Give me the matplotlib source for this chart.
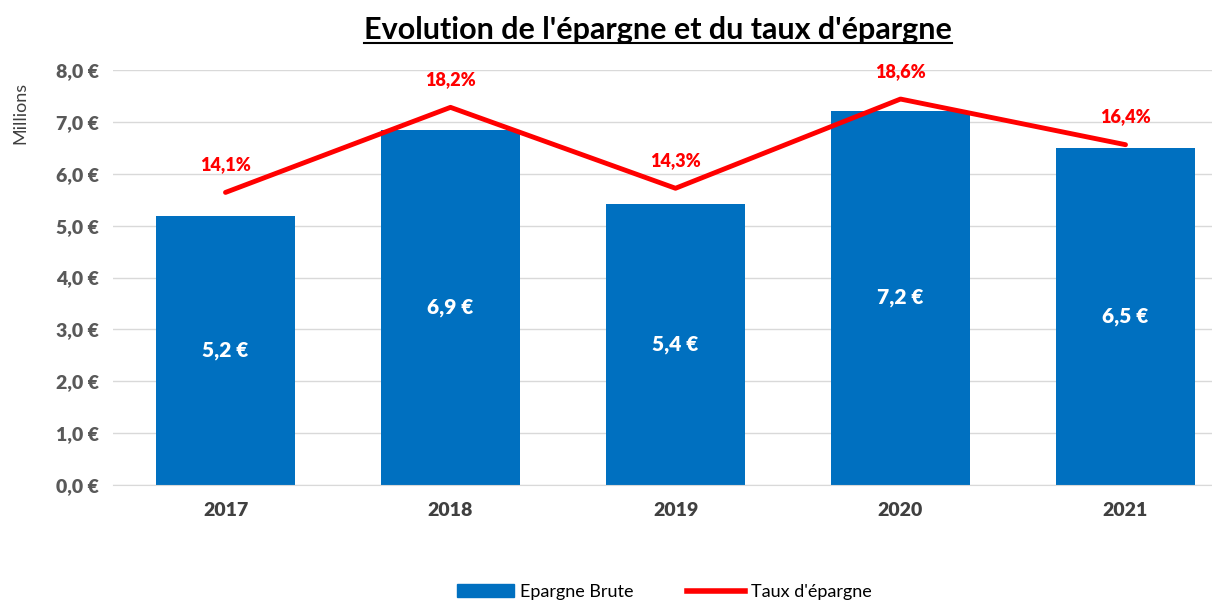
import matplotlib.pyplot as plt
from matplotlib.lines import Line2D
from matplotlib.patches import Patch

years = ["2017", "2018", "2019", "2020", "2021"]
epargne = [5.18, 6.84, 5.41, 7.21, 6.49]
bar_labels = ["5,2 €", "6,9 €", "5,4 €", "7,2 €", "6,5 €"]
taux = [14.1, 18.2, 14.3, 18.6, 16.4]
taux_labels = ["14,1%", "18,2%", "14,3%", "18,6%", "16,4%"]
yticks = [0, 1, 2, 3, 4, 5, 6, 7, 8]

plt.rcParams['font.family'] = ['Lato', 'DejaVu Sans']

blue = "#0070C0"
red = "#FF0000"
grey = "#595959"

fig = plt.figure(figsize=(12.12, 6.03), dpi=100)
ax = fig.add_axes([113 / 1212, 1 - 485 / 603, 1125 / 1212, 415 / 603])

x = list(range(len(years)))
ax.bar(x, epargne, width=0.62, color=blue, zorder=2)
for xi, v, lab in zip(x, epargne, bar_labels):
    ax.text(xi, v / 2, lab, ha="center", va="center", color="white",
            fontsize=15, fontweight="heavy", zorder=3)

ax.set_xlim(-0.5, 4.5)
ax.set_ylim(0, 8)
ax.set_yticks(yticks)
ax.set_yticklabels([f"{t},0 €" for t in yticks])
ax.set_xticks(x)
ax.set_xticklabels(years)
ax.tick_params(axis="both", length=0, labelsize=14, colors="#404040")
ax.tick_params(axis="y", pad=10, colors=grey)
ax.tick_params(axis="x", pad=12)
for lab in ax.get_xticklabels() + ax.get_yticklabels():
    lab.set_fontweight("heavy")
ax.grid(axis="y", color="#D9D9D9", linewidth=1, zorder=0)
for s in ["top", "right", "left"]:
    ax.spines[s].set_visible(False)
ax.spines["bottom"].set_color("#D9D9D9")
ax.set_axisbelow(True)

ax2 = ax.twinx()
ax2.set_ylim(0, 20)
ax2.plot(x, taux, color=red, linewidth=3.5, solid_capstyle="round", zorder=4)
for xi, v, lab in zip(x, taux, taux_labels):
    ax2.annotate(lab, (xi, v), xytext=(0, 14), textcoords="offset points",
                 ha="center", va="bottom", color=red, fontsize=13, fontweight="heavy")
ax2.axis("off")

fig.text(20 / 1212, 1 - 113 / 603, "Millions", rotation=90, ha="center", va="center",
         fontsize=13, color="#404040")

title = fig.text(658 / 1212, 1 - 30 / 603, "Evolution de l'épargne et du taux d'épargne",
                 ha="center", va="center", fontsize=22, fontweight="bold", color="black")
fig.canvas.draw()
bb = title.get_window_extent(fig.canvas.get_renderer()).transformed(fig.transFigure.inverted())
fig.add_artist(Line2D([bb.x0, bb.x1], [bb.y0 + 0.002, bb.y0 + 0.002], color="black",
                      linewidth=1.5, transform=fig.transFigure))

handles = [Patch(color=blue, label="Epargne Brute"),
           Line2D([0], [0], color=red, linewidth=4, label="Taux d'épargne")]
fig.legend(handles=handles, loc="center", bbox_to_anchor=(664 / 1212, 1 - 592 / 603), ncol=2,
           frameon=False, fontsize=13, handlelength=3.2, columnspacing=3, handletextpad=0.3)

fig.savefig("out.png", dpi=100, facecolor="white")
